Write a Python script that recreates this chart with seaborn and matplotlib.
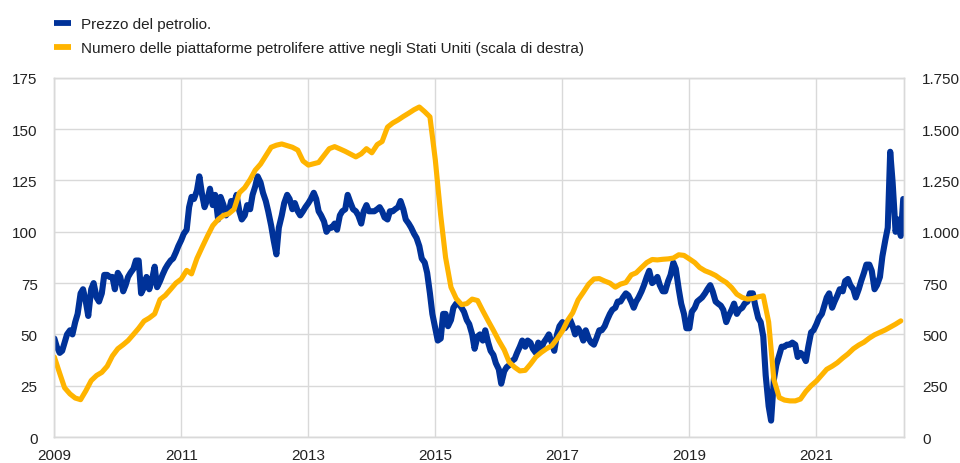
import matplotlib
matplotlib.use("Agg")
import matplotlib.pyplot as plt
from matplotlib.lines import Line2D
from matplotlib.ticker import FuncFormatter
import numpy as np
import pandas as pd
import seaborn as sns

# Brent oil price (USD per barrel), two readings per month (1st and 15th)
oil_2009 = [48, 44, 41, 42, 46, 50, 52, 50, 56, 60, 70, 72, 66, 59, 72, 75, 68, 66, 70, 79, 79, 78, 78, 72]
oil_2010 = [80, 78, 71, 74, 78, 80, 82, 86, 86, 70, 73, 78, 72, 76, 83, 73, 76, 79, 82, 84, 86, 87, 90, 93]
oil_2011 = [96, 99, 101, 112, 117, 116, 120, 127, 118, 112, 116, 121, 113, 118, 106, 117, 113, 108, 110, 115, 114, 118, 110, 106]
oil_2012 = [108, 113, 111, 118, 122, 127, 124, 119, 115, 110, 103, 96, 89, 102, 108, 114, 118, 116, 111, 114, 110, 108, 110, 112]
oil_2013 = [114, 116, 119, 116, 110, 108, 105, 100, 102, 102, 104, 101, 108, 110, 111, 118, 114, 111, 110, 108, 104, 110, 113, 110]
oil_2014 = [110, 110, 111, 112, 110, 107, 106, 110, 110, 111, 112, 115, 111, 106, 104, 102, 99, 97, 93, 87, 85, 80, 70, 60]
oil_2015 = [53, 47, 48, 60, 60, 54, 57, 63, 65, 65, 63, 61, 57, 55, 50, 43, 49, 50, 47, 52, 46, 42, 40, 36]
oil_2016 = [33, 26, 32, 34, 35, 37, 38, 41, 44, 47, 44, 47, 46, 43, 41, 46, 43, 46, 48, 50, 46, 42, 50, 54]
oil_2017 = [56, 53, 55, 57, 54, 50, 53, 51, 47, 52, 48, 46, 45, 48, 52, 52, 54, 57, 60, 62, 63, 66, 66, 68]
oil_2018 = [70, 69, 66, 63, 66, 68, 71, 74, 78, 81, 75, 76, 78, 74, 71, 71, 76, 79, 85, 82, 72, 65, 60, 53]
oil_2019 = [53, 61, 63, 66, 67, 68, 70, 72, 74, 71, 66, 65, 64, 62, 56, 59, 62, 65, 60, 62, 63, 65, 66, 70]
oil_2020 = [70, 64, 58, 56, 49, 30, 15, 8, 28, 35, 40, 44, 44, 45, 45, 46, 45, 39, 41, 40, 37, 44, 51, 52]
oil_2021 = [55, 58, 60, 64, 68, 70, 63, 66, 69, 72, 71, 76, 77, 74, 72, 68, 72, 76, 80, 84, 84, 81, 72, 74]
oil_2022 = [78, 88, 96, 102, 139, 124, 100, 106, 98, 116]

# US active oil rigs (Baker Hughes), first of each month
rig_2009 = [390, 310, 240, 210, 190, 182, 225, 275, 300, 315, 345, 395]
rig_2010 = [430, 450, 470, 500, 530, 565, 580, 600, 670, 690, 720, 750]
rig_2011 = [770, 812, 795, 870, 925, 980, 1030, 1060, 1080, 1088, 1110, 1190]
rig_2012 = [1215, 1255, 1300, 1330, 1370, 1412, 1422, 1428, 1420, 1412, 1398, 1345]
rig_2013 = [1325, 1332, 1338, 1372, 1405, 1415, 1404, 1392, 1378, 1365, 1380, 1405]
rig_2014 = [1385, 1425, 1440, 1510, 1530, 1545, 1562, 1578, 1595, 1608, 1585, 1560]
rig_2015 = [1350, 1080, 875, 730, 675, 645, 650, 672, 665, 615, 566, 520]
rig_2016 = [470, 425, 365, 340, 322, 325, 355, 390, 412, 430, 445, 478]
rig_2017 = [517, 570, 605, 668, 705, 745, 770, 772, 760, 750, 730, 745]
rig_2018 = [753, 790, 800, 826, 850, 865, 863, 866, 868, 872, 888, 885]
rig_2019 = [868, 850, 826, 810, 800, 787, 769, 753, 728, 696, 680, 672]
rig_2020 = [675, 683, 688, 560, 280, 192, 180, 176, 176, 185, 222, 250]
rig_2021 = [273, 303, 330, 345, 362, 385, 405, 430, 448, 462, 482, 498]
rig_2022 = [510, 522, 535, 550, 566]

tick_years = [2009, 2011, 2013, 2015, 2017, 2019, 2021]
left_ticks = [0, 25, 50, 75, 100, 125, 150, 175]
right_ticks = [0, 250, 500, 750, 1000, 1250, 1500, 1750]

label_oil = "Prezzo del petrolio."
label_rig = "Numero delle piattaforme petrolifere attive negli Stati Uniti (scala di destra)"

oil_price = sum([oil_2009, oil_2010, oil_2011, oil_2012, oil_2013, oil_2014, oil_2015,
                 oil_2016, oil_2017, oil_2018, oil_2019, oil_2020, oil_2021, oil_2022], [])
rig_count = sum([rig_2009, rig_2010, rig_2011, rig_2012, rig_2013, rig_2014, rig_2015,
                 rig_2016, rig_2017, rig_2018, rig_2019, rig_2020, rig_2021, rig_2022], [])

oil_df = pd.DataFrame({
    "date": pd.date_range("2009-01-01", periods=len(oil_price), freq="SMS"),
    "value": oil_price,
})
rig_df = pd.DataFrame({
    "date": pd.date_range("2009-01-01", periods=len(rig_count), freq="MS"),
    "value": rig_count,
})

sns.set_style("white")
plt.rcParams["font.family"] = ["Liberation Sans", "DejaVu Sans"]

BLUE = "#003299"
YELLOW = "#FFB400"
GRID = "#d9d9d9"
TXT = "#222222"

fig = plt.figure(figsize=(9.6, 4.64), dpi=100)
ax = fig.add_axes([0.0566, 0.056, 0.885, 0.774])
ax2 = ax.twinx()

sns.lineplot(data=oil_df, x="date", y="value", ax=ax, color=BLUE, linewidth=4.4,
             solid_joinstyle="round", solid_capstyle="round")
sns.lineplot(data=rig_df, x="date", y="value", ax=ax2, color=YELLOW, linewidth=3.7,
             solid_joinstyle="round", solid_capstyle="round")

x0 = pd.Timestamp("2009-01-01")
x1 = pd.Timestamp("2022-05-19")
ax.set_xlim(x0, x1)
ax.set_ylim(0, 175)
ax2.set_ylim(0, 1750)

ax.set_xticks([pd.Timestamp(f"{y}-01-01") for y in tick_years])
ax.set_xticklabels([str(y) for y in tick_years])
ax.set_yticks(left_ticks)
ax.set_yticklabels([str(v) for v in left_ticks])
ax2.set_yticks(right_ticks)
ax2.yaxis.set_major_formatter(FuncFormatter(lambda v, p: f"{int(v):,}".replace(",", ".")))

ax.set_xlabel("")
ax.set_ylabel("")
ax2.set_ylabel("")

ax.grid(True, color=GRID, linewidth=1.0)
ax2.grid(False)
ax.set_axisbelow(True)
for a in (ax, ax2):
    for s in a.spines.values():
        s.set_color(GRID)
        s.set_linewidth(1.0)
ax.tick_params(axis="both", length=0, labelsize=11, colors=TXT)
ax.tick_params(axis="y", pad=12)
ax.tick_params(axis="x", pad=8)
ax2.tick_params(axis="y", length=0, labelsize=11, colors=TXT, pad=13)

handles = [
    Line2D([0], [0], color=BLUE, linewidth=4.2, solid_capstyle="butt"),
    Line2D([0], [0], color=YELLOW, linewidth=4.2, solid_capstyle="butt"),
]
fig.legend(handles, [label_oil, label_rig], loc="upper left",
           bbox_to_anchor=(0.042, 0.99), frameon=False, fontsize=11,
           handlelength=1.1, handletextpad=0.65, labelspacing=0.62,
           labelcolor=TXT)

fig.savefig("out.png", dpi=100)
